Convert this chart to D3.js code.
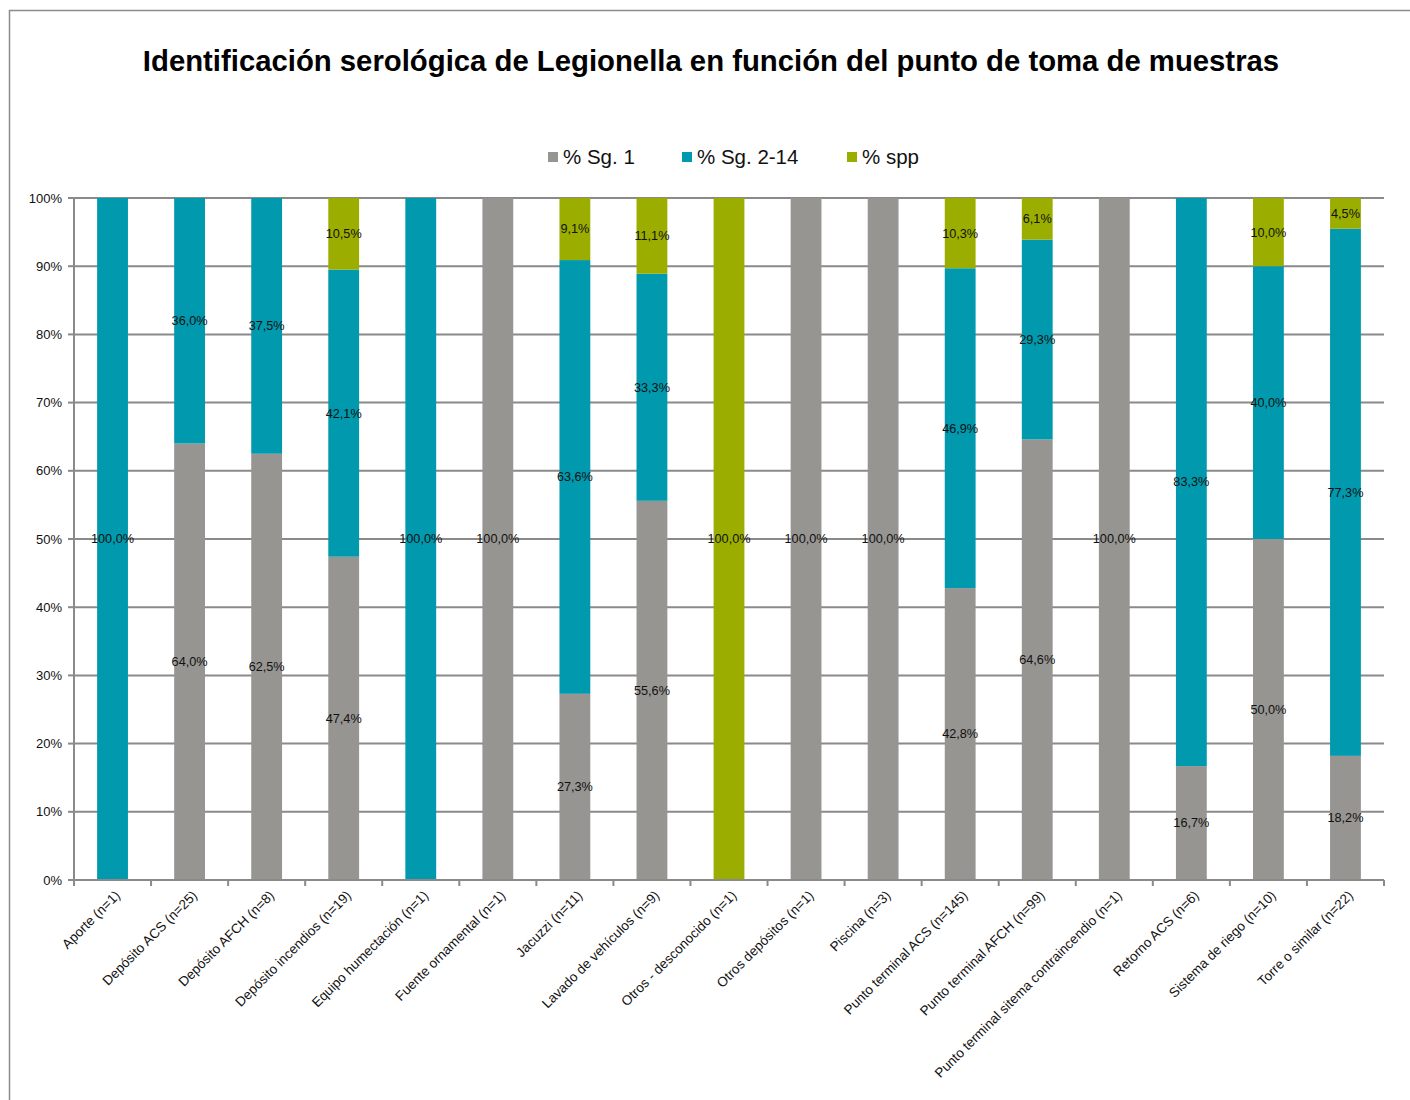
<!DOCTYPE html>
<html>
<head>
<meta charset="utf-8">
<script src="https://cdn.jsdelivr.net/npm/d3@7"></script>
<style>
    body { margin: 0; background: #fff; }
    text { font-family: "Liberation Sans", Arial, sans-serif; }
</style>
</head>
<body>
<script>
// categories (sampling points)
var categories = [
    'Aporte (n=1)', 'Depósito ACS (n=25)', 'Depósito AFCH (n=8)', 'Depósito incendios (n=19)',
    'Equipo humectación (n=1)', 'Fuente ornamental (n=1)', 'Jacuzzi (n=11)', 'Lavado de vehículos (n=9)',
    'Otros - desconocido (n=1)', 'Otros depósitos (n=1)', 'Piscina (n=3)', 'Punto terminal ACS (n=145)',
    'Punto terminal AFCH (n=99)', 'Punto terminal sitema contraincendio (n=1)', 'Retorno ACS (n=6)',
    'Sistema de riego (n=10)', 'Torre o similar (n=22)'
];

// series values (percent)
var sg1    = [0, 64.0, 62.5, 47.4, 0, 100, 27.3, 55.6, 0, 100, 100, 42.8, 64.6, 100, 16.7, 50.0, 18.2];
var sg214  = [100, 36.0, 37.5, 42.1, 100, 0, 63.6, 33.3, 0, 0, 0, 46.9, 29.3, 0, 83.3, 40.0, 77.3];
var spp    = [0, 0, 0, 10.5, 0, 0, 9.1, 11.1, 100, 0, 0, 10.3, 6.1, 0, 0, 10.0, 4.5];

var seriesNames = ['% Sg. 1', '% Sg. 2-14', '% spp'];
var seriesColors = ['#979591', '#0099ad', '#9bae00'];
var yTicks = [0, 10, 20, 30, 40, 50, 60, 70, 80, 90, 100];

var W = 1410, H = 1100;
var margin = { top: 198, right: 26, bottom: 220, left: 74 };

var svg = d3.select('body').append('svg')
    .attr('width', W)
    .attr('height', H);

// outer frame (left and top only visible)
svg.append('line').attr('x1', 9.5).attr('x2', 9.5).attr('y1', 10).attr('y2', H)
    .attr('stroke', '#8c8c8c').attr('stroke-width', 1.5);
svg.append('line').attr('x1', 9).attr('x2', W).attr('y1', 10.5).attr('y2', 10.5)
    .attr('stroke', '#8c8c8c').attr('stroke-width', 1.5);

// title
svg.append('text')
    .attr('x', 711)
    .attr('y', 71)
    .attr('text-anchor', 'middle')
    .style('font-size', '29.3px')
    .style('font-weight', 'bold')
    .text('Identificación serológica de Legionella en función del punto de toma de muestras');

var width = 1384 - margin.left;
var height = 880 - margin.top;

var x = d3.scaleBand().domain(categories).range([0, width]).paddingInner(0.6).paddingOuter(0.3);
var xb = d3.scaleBand().domain(categories).range([0, width]);
var y = d3.scaleLinear().domain([0, 100]).range([height, 0]);

var g = svg.append('g').attr('transform', 'translate(' + margin.left + ',' + margin.top + ')');

// gridlines
g.selectAll('.grid')
    .data(yTicks)
    .enter().append('line')
    .attr('x1', 0).attr('x2', width)
    .attr('y1', function(d) { return y(d); })
    .attr('y2', function(d) { return y(d); })
    .attr('stroke', '#8a8a8a')
    .attr('stroke-width', 2);

// stack the series
var rows = categories.map(function(c, i) {
    return { cat: c, s0: sg1[i], s1: sg214[i], s2: spp[i] };
});
var stack = d3.stack().keys(['s0', 's1', 's2'])(rows);

var fmt = function(v) { return d3.format('.1f')(v).replace('.', ',') + '%'; };

stack.forEach(function(layer, k) {
    g.selectAll('.bar' + k)
        .data(layer)
        .enter().append('rect')
        .attr('x', function(d) { return x(d.data.cat); })
        .attr('y', function(d) { return y(d[1]); })
        .attr('width', x.bandwidth())
        .attr('height', function(d) { return y(d[0]) - y(d[1]); })
        .attr('fill', seriesColors[k]);
});

// data labels (skip zeros)
stack.forEach(function(layer, k) {
    g.selectAll('.lab' + k)
        .data(layer.filter(function(d) { return d[1] - d[0] > 0; }))
        .enter().append('text')
        .attr('x', function(d) { return x(d.data.cat) + x.bandwidth() / 2; })
        .attr('y', function(d) { return y((d[0] + d[1]) / 2); })
        .attr('dy', '0.35em')
        .attr('text-anchor', 'middle')
        .style('font-size', '12.7px')
        .attr('fill', '#111')
        .text(function(d) { return fmt(d[1] - d[0]); });
});

// y axis
var yAxis = g.append('g');
yAxis.append('line').attr('x1', 0).attr('x2', 0).attr('y1', 0).attr('y2', height)
    .attr('stroke', '#8a8a8a').attr('stroke-width', 2);
yAxis.selectAll('.ytick')
    .data(yTicks)
    .enter().append('line')
    .attr('x1', -6).attr('x2', 0)
    .attr('y1', function(d) { return y(d); })
    .attr('y2', function(d) { return y(d); })
    .attr('stroke', '#8a8a8a').attr('stroke-width', 2);
yAxis.selectAll('.ylab')
    .data(yTicks)
    .enter().append('text')
    .attr('x', -12)
    .attr('y', function(d) { return y(d); })
    .attr('dy', '0.35em')
    .attr('text-anchor', 'end')
    .style('font-size', '13px')
    .attr('fill', '#111')
    .text(function(d) { return d + '%'; });

// x axis
var xAxis = g.append('g').attr('transform', 'translate(0,' + height + ')');
xAxis.append('line').attr('x1', 0).attr('x2', width).attr('stroke', '#8a8a8a').attr('stroke-width', 2);
xAxis.selectAll('.xtick')
    .data(categories.concat(['__end']))
    .enter().append('line')
    .attr('x1', function(d, i) { return i * xb.step(); })
    .attr('x2', function(d, i) { return i * xb.step(); })
    .attr('y1', 0).attr('y2', 6)
    .attr('stroke', '#8a8a8a').attr('stroke-width', 2);
xAxis.selectAll('.xlab')
    .data(categories)
    .enter().append('text')
    .attr('transform', function(d) {
        return 'translate(' + (xb(d) + xb.bandwidth() / 2 + 5) + ',13) rotate(-45)';
    })
    .attr('text-anchor', 'end')
    .attr('dy', '0.35em')
    .style('font-size', '13.5px')
    .attr('fill', '#111')
    .text(function(d) { return d; });

// legend
var legendX = [548, 682, 847];
var legend = svg.selectAll('.legend')
    .data(seriesNames)
    .enter().append('g')
    .attr('transform', function(d, i) { return 'translate(' + legendX[i] + ',152)'; });
legend.append('rect')
    .attr('width', 10).attr('height', 10)
    .attr('fill', function(d, i) { return seriesColors[i]; });
legend.append('text')
    .attr('x', 15)
    .attr('y', 5)
    .attr('dy', '0.35em')
    .style('font-size', '20.5px')
    .attr('fill', '#111')
    .text(function(d) { return d; });
</script>
</body>
</html>
